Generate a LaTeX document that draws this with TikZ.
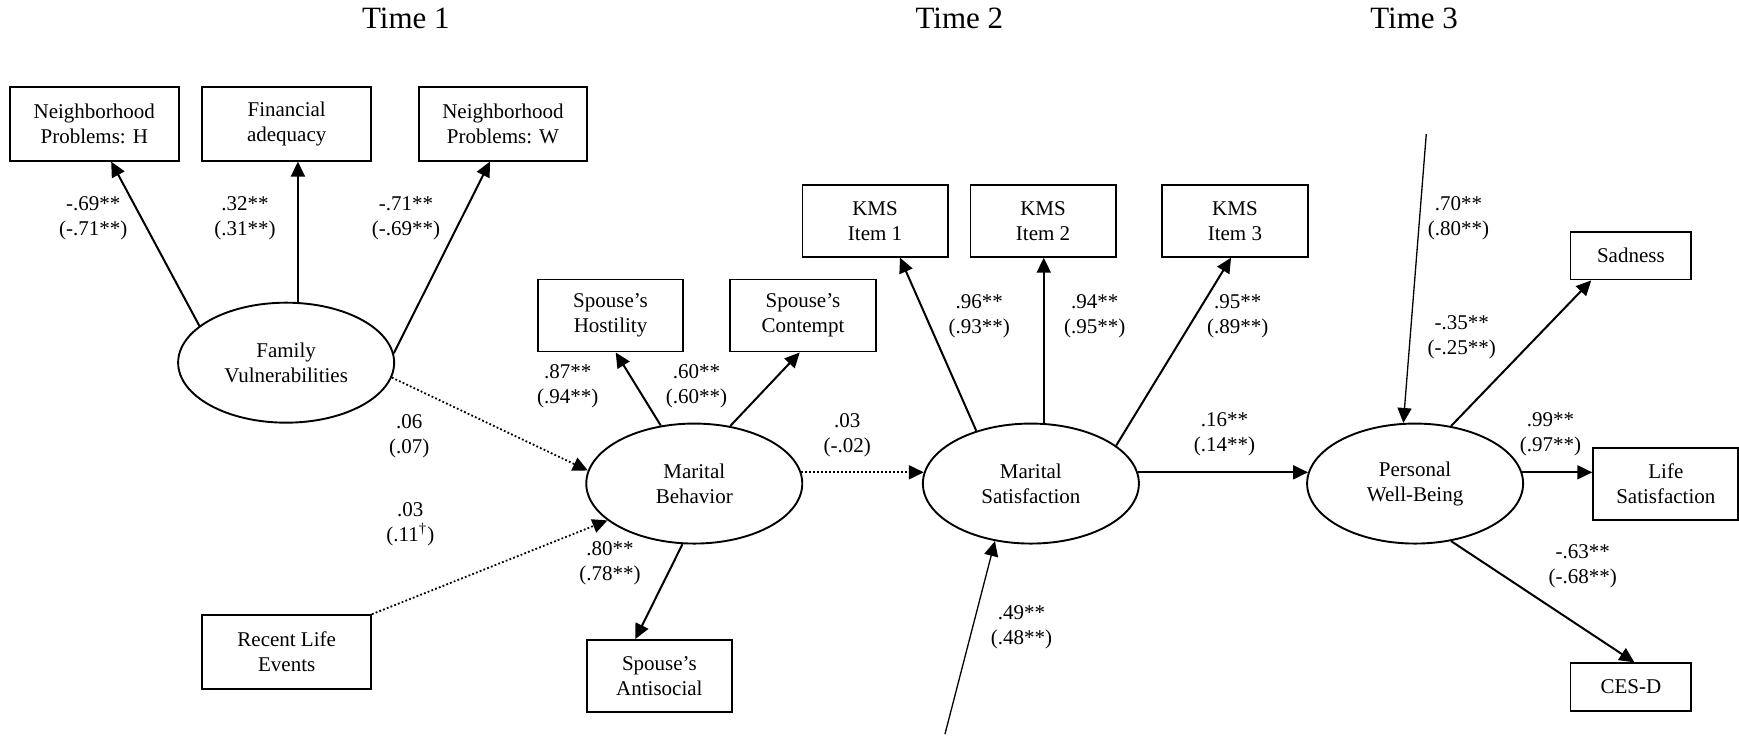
\documentclass[tikz,border=0pt]{standalone}
\usepackage{fontspec}
\setmainfont{Liberation Serif}
\usetikzlibrary{positioning,shapes.geometric,arrows.meta}
\tikzset{>={Triangle[length=7.5pt,width=7pt]}}
\tikzset{
  obs/.style={draw, rectangle, line width=0.95pt, align=center, inner sep=0pt, minimum width=72.6pt, minimum height=36pt},
  wide/.style={minimum width=84.3pt, minimum height=37pt},
  small/.style={minimum width=60.4pt, minimum height=23.8pt},
  lat/.style={draw, ellipse, line width=0.95pt, align=center, inner sep=0pt, minimum width=108pt, minimum height=60pt},
  coef/.style={align=center, inner sep=0pt},
  load/.style={->, line width=1pt},
  nopath/.style={->, line width=0.9pt, dash pattern=on 0.9pt off 1.1pt},
  resid/.style={->, line width=0.65pt},
  timelbl/.style={font=\fontsize{15.5}{18}\selectfont}
}

\begin{document}
\begin{tikzpicture}[x=0.5545pt, y=-0.5545pt, font=\fontsize{10.5}{12.5}\selectfont]
      \useasboundingbox (0,0) rectangle (1568,664);
      % time points
      \node[timelbl] (t1) at (366,16.5) {Time 1};
      \node[timelbl] (t2) at (865,16.5) {Time 2};
      \node[timelbl] (t3) at (1275,16.5) {Time 3};
      % latent variables
      \node[lat] (fam) at (258,327) {Family\\Vulnerabilities};
      \node[lat] (mb) at (626,436) {Marital\\Behavior};
      \node[lat] (ms) [right of=mb, node distance=168.3pt] {Marital\\Satisfaction};
      \node[lat] (pwb) [right of=ms, node distance=192.1pt] {Personal\\Well-Being};
      % indicators
      \node[obs, wide] (nph) at (85,111.5) {Neighborhood\\Problems: H};
      \node[obs, wide] (fin) at (258.5,111.5) {Financial\\adequacy};
      \node[obs, wide] (npw) at (453.5,111.5) {Neighborhood\\Problems: W};
      \node[obs, wide] (rle) at (258.5,588) {Recent Life\\Events};
      \node[obs] (host) at (550.5,284.5) {Spouse's\\Hostility};
      \node[obs] (cont) at (724,284.5) {Spouse's\\Contempt};
      \node[obs] (anti) at (594.5,609.5) {Spouse's\\Antisocial};
      \node[obs] (kms1) at (789,199) {KMS\\Item 1};
      \node[obs] (kms2) at (940.5,199) {KMS\\Item 2};
      \node[obs] (kms3) at (1113.5,199) {KMS\\Item 3};
      \node[obs, small] (sad) at (1470.5,230.5) {Sadness};
      \node[obs] (life) at (1502,436.5) {Life\\Satisfaction};
      \node[obs, small] (cesd) at (1470.5,619.5) {CES-D};
      \coordinate (d1) at (852,662);
      \coordinate (d2) at (1286,121);
      % paths
      \draw[load] (fam.157) -- (nph.-66);
      \draw[load] (fam.79.5) -- (fam.79.5 |- fin.south);
      \draw[load] (fam.5) -- (npw.-109);
      \draw[nopath] (fam.-8) -- (mb.173);
      \draw[nopath] (rle.north east) -- (mb.-157);
      \draw[load] (mb.120) -- (host.-82);
      \draw[load] (mb.58) -- (cont.-95);
      \draw[load] (mb.-101) -- (anti.123);
      \draw[nopath] (mb.6) -- (ms.174);
      \draw[load] (ms.136) -- (kms1.-56);
      \draw[load] (ms.78.4) -- (ms.78.4 |- kms2.south);
      \draw[load] (ms.24) -- (kms3.-96);
      \draw[load] (ms.6) -- (pwb.174);
      \draw[load] (pwb.58.6) -- (sad.-148);
      \draw[load] (pwb.6) -- (pwb.6 -| life.west);
      \draw[load] (pwb.-58.6) -- (cesd.82);
      \draw[resid] (d1) -- (ms.-122.5);
      \draw[resid] (d2) -- (pwb.101.5);
      % coefficients
      \node[coef] (c1) at (84,197) {-.69**\\(-.71**)};
      \node[coef] (c2) at (221,197) {.32**\\(.31**)};
      \node[coef] (c3) at (366,197) {-.71**\\(-.69**)};
      \node[coef] (c4) at (512,348) {.87**\\(.94**)};
      \node[coef] (c5) at (628,348) {.60**\\(.60**)};
      \node[coef] (c6) at (369,393) {.06\\(.07)};
      \node[coef] (c7) at (764,392) {.03\\(-.02)};
      \node[coef] (c8) at (370,473) {.03\\(.11\textsuperscript{\textdagger})};
      \node[coef] (c9) at (550,508) {.80**\\(.78**)};
      \node[coef] (c10) at (883,285) {.96**\\(.93**)};
      \node[coef] (c11) at (987,285) {.94**\\(.95**)};
      \node[coef] (c12) at (1116,285) {.95**\\(.89**)};
      \node[coef] (c13) at (1104,392) {.16**\\(.14**)};
      \node[coef] (c14) at (1315,197) {.70**\\(.80**)};
      \node[coef] (c15) at (1318,304) {-.35**\\(-.25**)};
      \node[coef] (c16) at (1398,392) {.99**\\(.97**)};
      \node[coef] (c17) at (1427,511) {-.63**\\(-.68**)};
      \node[coef] (c18) at (921,566) {.49**\\(.48**)};
\end{tikzpicture}
\end{document}
